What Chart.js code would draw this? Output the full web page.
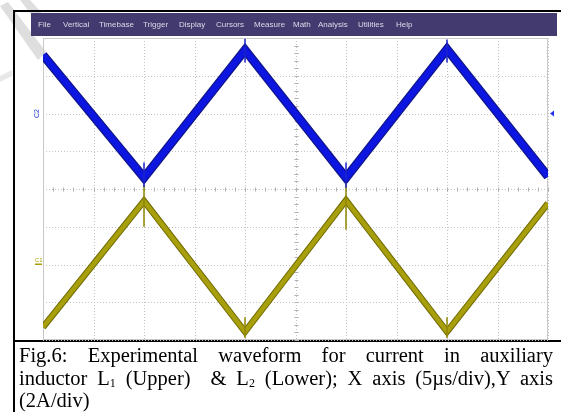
<!DOCTYPE html>
<html>
<head>
<meta charset="utf-8">
<script src="https://cdn.jsdelivr.net/npm/chart.js@4.4.0/dist/chart.umd.min.js"></script>
<style>
  body { margin: 0; width: 561px; height: 412px; position: relative; overflow: hidden; background: #fff; }
  #grafico { position: absolute; left: 0; top: 0; }
  #menu span { position: absolute; top: 20px; font: 8px "Liberation Sans", Arial, sans-serif; color: #dedbe8; white-space: nowrap; }
  #legenda { position: absolute; left: 19px; top: 344px; width: 534px; font: 20.5px "Liberation Serif", "Times New Roman", serif; line-height: 22.5px; color: #000; }
  #legenda div { white-space: nowrap; }
  #legenda .just { white-space: normal; text-align: justify; text-align-last: justify; }
  sub { font-size: 12px; line-height: 0; vertical-align: -2px; }
</style>
</head>
<body>
<canvas id="grafico" width="561" height="412"></canvas>
<div id="menu"></div>
<div id="legenda">
  <div class="just">Fig.6: Experimental waveform for current in auxiliary</div>
  <div class="just">inductor L<sub>1</sub> (Upper)&nbsp; &amp; L<sub>2</sub> (Lower); X axis (5µs/div),Y axis</div>
  <div>(2A/div)</div>
</div>
<script>
// eixo x em µs (5 µs/div), eixo y em divisões (2 A/div)
const tempo = [0, 10, 20, 30, 40, 50];
const correnteL1 = [3.55, 0.3, 3.68, 0.3, 3.7, 0.33];     // traço azul (C2)
const correnteL2 = [-3.66, -0.32, -3.78, -0.3, -3.78, -0.38]; // traço amarelo (C1)

// picos de ruído nos vértices
const ruidoL1X = [10, 10, 10, 20, 20, 20, 30, 30, 30, 40, 40, 40];
const ruidoL1Y = [0.05, 0.7, null, 3.98, 3.35, null, 0.03, 0.7, null, 3.96, 3.35, null];
const ruidoL2X = [10, 10, 10, 20, 20, 20, 30, 30, 30, 40, 40, 40];
const ruidoL2Y = [0.12, -1.0, null, -3.95, -3.4, null, 0.16, -1.08, null, -3.95, -3.4, null];

const divisoesX = [0, 5, 10, 15, 20, 25, 30, 35, 40, 45, 50];
const divisoesY = [-4, -3, -2, -1, 0, 1, 2, 3, 4];
const nivelC2 = 2;
const nivelC1 = -2;

const menuItens = ["File", "Vertical", "Timebase", "Trigger", "Display", "Cursors", "Measure", "Math", "Analysis", "Utilities", "Help"];
const menuPos = [38, 63, 99, 143, 179, 216, 254, 293, 318, 358, 396];

const menu = document.getElementById("menu");
menuItens.forEach((txt, i) => {
  const s = document.createElement("span");
  s.textContent = txt;
  s.style.left = menuPos[i] + "px";
  menu.appendChild(s);
});

const pontos = (xs, ys) => xs.map((x, i) => ({ x: x, y: ys[i] }));

const fundo = {
  id: "fundo",
  beforeDraw(chart) {
    const ctx = chart.ctx;
    ctx.save();
    ctx.fillStyle = "#fff";
    ctx.fillRect(0, 0, chart.width, chart.height);
    // marca d'água
    ctx.fillStyle = "#dedede";
    ctx.beginPath();
    ctx.moveTo(0, 6); ctx.lineTo(8, 2); ctx.lineTo(46, 52); ctx.lineTo(38, 60); ctx.closePath();
    ctx.fill();
    ctx.beginPath();
    ctx.moveTo(20, 0); ctx.lineTo(30, 0); ctx.lineTo(48, 20); ctx.lineTo(40, 26); ctx.closePath();
    ctx.fill();
    ctx.fillStyle = "#e8e8e8";
    ctx.beginPath();
    ctx.moveTo(0, 76); ctx.lineTo(12, 70); ctx.lineTo(12, 76); ctx.lineTo(0, 82); ctx.closePath();
    ctx.fill();
    // moldura preta
    ctx.fillStyle = "#000";
    ctx.fillRect(13, 10, 548, 2);
    ctx.fillRect(13, 10, 2, 402);
    ctx.fillRect(13, 340, 548, 2);
    // barra de menu
    ctx.fillStyle = "#433a70";
    ctx.fillRect(31, 13, 526, 23);
    ctx.restore();
  },
  beforeDatasetsDraw(chart) {
    const ctx = chart.ctx;
    const { left, right, top, bottom } = chart.chartArea;
    const sx = chart.scales.x, sy = chart.scales.y;
    ctx.save();
    ctx.lineWidth = 1;
    ctx.strokeStyle = "#c4c4c4";
    ctx.setLineDash([1, 2]);
    divisoesX.forEach(v => {
      const p = Math.round(sx.getPixelForValue(v)) + 0.5;
      ctx.beginPath(); ctx.moveTo(p, top); ctx.lineTo(p, bottom); ctx.stroke();
    });
    divisoesY.forEach(v => {
      const p = Math.round(sy.getPixelForValue(v)) + 0.5;
      ctx.beginPath(); ctx.moveTo(left, p); ctx.lineTo(right, p); ctx.stroke();
    });
    // marcas menores nos eixos centrais
    ctx.setLineDash([]);
    ctx.strokeStyle = "#b0b0b0";
    const cy = Math.round(sy.getPixelForValue(0)) + 0.5;
    const cx = Math.round(sx.getPixelForValue(25)) + 0.5;
    for (let v = 0; v <= 50; v += 1) {
      const p = Math.round(sx.getPixelForValue(v)) + 0.5;
      ctx.beginPath(); ctx.moveTo(p, cy - 2); ctx.lineTo(p, cy + 2); ctx.stroke();
    }
    for (let k = -20; k <= 20; k++) {
      const p = Math.round(sy.getPixelForValue(k / 5)) + 0.5;
      ctx.beginPath(); ctx.moveTo(cx - 2, p); ctx.lineTo(cx + 2, p); ctx.stroke();
    }
    ctx.strokeStyle = "#c8c8c8";
    ctx.strokeRect(left + 0.5, top + 0.5, right - left - 1, bottom - top - 1);
    ctx.restore();
  },
  afterDraw(chart) {
    const ctx = chart.ctx;
    const { right } = chart.chartArea;
    const sy = chart.scales.y;
    const y2 = sy.getPixelForValue(nivelC2);
    const y1 = sy.getPixelForValue(nivelC1);
    ctx.save();
    ctx.font = "7px 'Liberation Sans', Arial, sans-serif";
    ctx.fillStyle = "#2a3ae8";
    ctx.translate(41, y2);
    ctx.rotate(-Math.PI / 2);
    ctx.textAlign = "center";
    ctx.textBaseline = "bottom";
    ctx.fillText("C2", 0, 0);
    ctx.restore();
    ctx.save();
    ctx.font = "6px 'Liberation Sans', Arial, sans-serif";
    ctx.fillStyle = "#a9a000";
    ctx.textAlign = "left";
    ctx.textBaseline = "bottom";
    ctx.fillText("C1", 35, y1 - 1);
    ctx.fillRect(35, y1 - 1, 7, 1.5);
    // marcador azul à direita
    ctx.fillStyle = "#2233ee";
    ctx.beginPath();
    ctx.moveTo(right + 2, y2);
    ctx.lineTo(right + 6, y2 - 3);
    ctx.lineTo(right + 6, y2 + 3);
    ctx.closePath();
    ctx.fill();
    ctx.restore();
  }
};

const base = { fill: false, tension: 0, pointRadius: 0, borderJoinStyle: "miter", clip: 0 };

new Chart(document.getElementById("grafico"), {
  type: "line",
  data: {
    datasets: [
      { ...base, data: pontos(ruidoL1X, ruidoL1Y), borderColor: "#1c24c8", borderWidth: 1.5, spanGaps: false, order: 1 },
      { ...base, data: pontos(ruidoL2X, ruidoL2Y), borderColor: "#8f8700", borderWidth: 1.5, spanGaps: false, order: 1 },
      { ...base, data: pontos(tempo, correnteL1), borderColor: "#0d16e0", borderWidth: 6.5, order: 2 },
      { ...base, data: pontos(tempo, correnteL1), borderColor: "#10158a", borderWidth: 9, order: 3 },
      { ...base, data: pontos(tempo, correnteL2), borderColor: "#a89f0c", borderWidth: 4.5, order: 2 },
      { ...base, data: pontos(tempo, correnteL2), borderColor: "#6f6900", borderWidth: 6.5, order: 3 }
    ]
  },
  options: {
    responsive: false,
    animation: false,
    devicePixelRatio: 1,
    layout: { padding: { left: 43, right: 13, top: 38, bottom: 72 } },
    plugins: { legend: { display: false }, tooltip: { enabled: false } },
    scales: {
      x: { type: "linear", display: false, min: 0, max: 50 },
      y: { type: "linear", display: false, min: -4, max: 4 }
    }
  },
  plugins: [fundo]
});
</script>
</body>
</html>
